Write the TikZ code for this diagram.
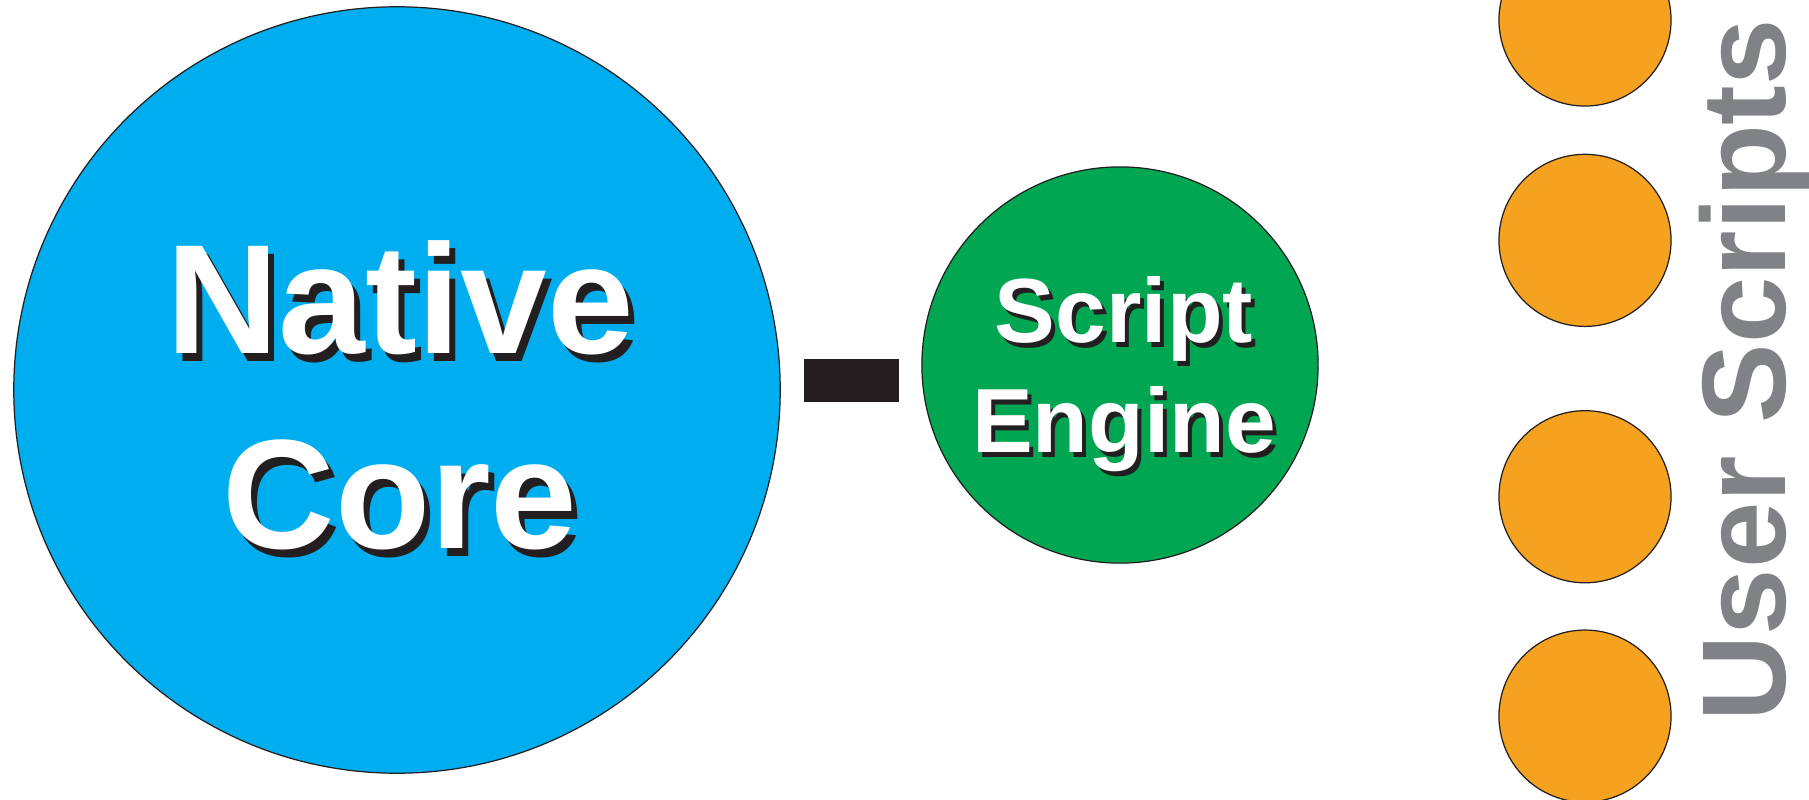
\documentclass[tikz,border=0pt]{standalone}
\usepackage{fontspec}
\setmainfont{Liberation Sans}
\usetikzlibrary{positioning}
\definecolor{scblue}{HTML}{00AEEF}
\definecolor{scgreen}{HTML}{00A651}
\definecolor{scorange}{HTML}{F4A21F}
\definecolor{scgray}{HTML}{808285}
\definecolor{scink}{HTML}{231F20}

\begin{document}
\begin{tikzpicture}[
  x=0.01cm, y=-0.01cm,
  layer/.style={circle, draw=scink, line width=0.35pt, inner sep=0pt},
  script/.style={layer, fill=scorange, minimum size=1.72cm},
  coretext/.style={align=center, inner sep=0pt, font=\bfseries\fontsize{44.3pt}{55.5pt}\selectfont},
  enginetext/.style={align=center, inner sep=0pt, font=\bfseries\fontsize{25.9pt}{31.3pt}\selectfont},
]
\useasboundingbox (0,0) rectangle (1809,800);
\clip (0,0) rectangle (1809,800);

% Layers
\node[layer, fill=scblue, minimum size=7.66cm] (core) at (397,390) {};
\node[layer, fill=scgreen, minimum size=3.96cm] (engine) at (1120,365) {};
\node[rectangle, fill=scink, minimum width=0.95cm, minimum height=0.43cm, inner sep=0pt] (bridge) at (851.5,380.5) {};

% Labels with drop shadow
\node[coretext, text=scink] at ([shift={(9,13)}]core) {Native\\Core};
\node[coretext, text=white] (coretxt) at ([shift={(3,5)}]core) {Native\\Core};
\node[enginetext, text=scink] at ([shift={(8,14)}]engine) {Script\\Engine};
\node[enginetext, text=white] (enginetxt) at ([shift={(4,9)}]engine) {Script\\Engine};

% User scripts
\node[script] (us1) at (1585,20) {};
\node[script, below=0.47cm of us1] (us2) {};
\node[script, below=0.83cm of us2] (us3) {};
\node[script, below=0.46cm of us3] (us4) {};
\node[rotate=90, anchor=base, inner sep=0pt, text=scgray, font=\bfseries\fontsize{33.9pt}{40pt}\selectfont] (uslabel) at (1785,370) {User Scripts};
\end{tikzpicture}
\end{document}
